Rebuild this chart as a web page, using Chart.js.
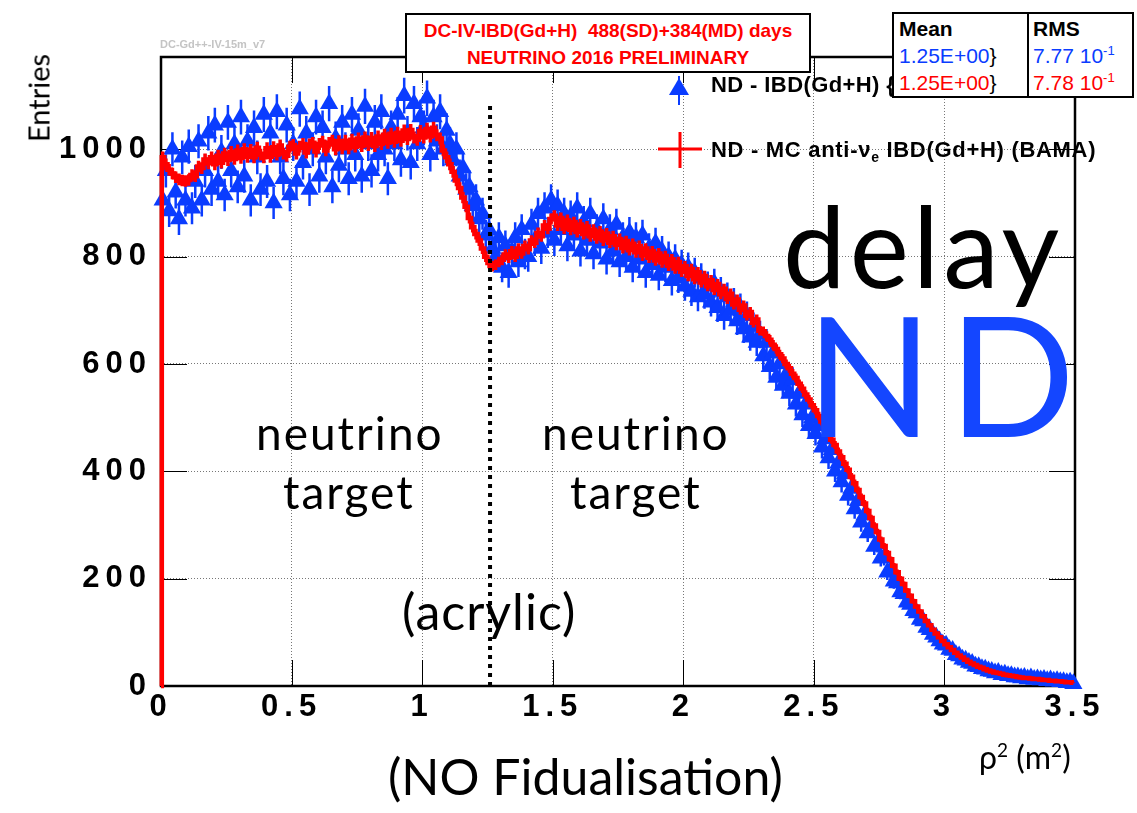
<!DOCTYPE html>
<html>
<head>
<meta charset="utf-8">
<title>ND delayed rho2</title>
<script src="https://cdn.jsdelivr.net/npm/chart.js@4.4.1/dist/chart.umd.min.js"></script>
<style>
  html, body { margin: 0; padding: 0; background: #fff; }
  #wrap { position: relative; width: 1137px; height: 813px; overflow: hidden; }
  #wrap canvas { position: absolute; left: 0; top: 0; }
  .lbl { position: absolute; white-space: nowrap; line-height: 1; margin: 0; }
  .gill { font-family: Lato, "Open Sans", sans-serif; color: #000; }
  .root { font-family: "Liberation Sans", Arial, sans-serif; }
  .box { position: absolute; background: #fff; border: 2px solid #000; box-sizing: border-box; }
  sub, sup { line-height: 0; }
</style>
</head>
<body>
<div id="wrap">
  <canvas id="rho2" width="1137" height="813"></canvas>

  <div class="lbl root" style="left:160px; top:39px; font-size:11px; font-weight:bold; color:#c4c4c4;">DC-Gd++-IV-15m_v7</div>

  <!-- legend entries (stats box sits over the end of the first one) -->
  <div class="lbl root" style="left:711px; top:74px; font-size:22px; font-weight:bold; letter-spacing:0.4px;">ND - IBD(Gd+H) {</div>
  <div class="lbl root" style="left:711px; top:139px; font-size:22px; font-weight:bold; letter-spacing:0.7px;">ND - MC anti-&nu;<sub style="font-size:14px;">e</sub> IBD(Gd+H) (BAMA)</div>

  <div class="box" style="left:405px; top:13px; width:406px; height:60px;">
    <div class="lbl root" style="left:0; right:0; top:6px; text-align:center; font-size:19px; font-weight:bold; color:#f00;">DC-IV-IBD(Gd+H)&nbsp; 488(SD)+384(MD) days</div>
    <div class="lbl root" style="left:0; right:0; top:33px; text-align:center; font-size:19px; font-weight:bold; color:#f00;">NEUTRINO 2016 PRELIMINARY</div>
  </div>

  <div class="box" style="left:892px; top:12px; width:242px; height:86px;">
    <div style="position:absolute; left:133px; top:0; bottom:0; border-left:2px solid #000;"></div>
    <div class="lbl root" style="left:5px; top:4px; font-size:21px; font-weight:bold;">Mean</div>
    <div class="lbl root" style="left:5px; top:31px; font-size:21px; color:#0a3cff;">1.25E+00<span style="color:#000">}</span></div>
    <div class="lbl root" style="left:5px; top:58px; font-size:21px; color:#f00;">1.25E+00<span style="color:#000">}</span></div>
    <div class="lbl root" style="left:139px; top:4px; font-size:21px; font-weight:bold;">RMS</div>
    <div class="lbl root" style="left:139px; top:31px; font-size:21px; color:#0a3cff;">7.77 10<sup style="font-size:13px;">-1</sup></div>
    <div class="lbl root" style="left:139px; top:58px; font-size:21px; color:#f00;">7.78 10<sup style="font-size:13px;">-1</sup></div>
  </div>

  <div class="lbl gill" style="left:783px; top:189px; font-size:112px; letter-spacing:4px;">delay</div>
  <div class="lbl gill" style="left:806px; top:290px; font-size:166px; letter-spacing:16px; color:#1446ff;">ND</div>

  <div class="lbl gill" style="left:256px; top:410px; font-size:46px; letter-spacing:2px;">neutrino</div>
  <div class="lbl gill" style="left:283px; top:469px; font-size:46px; letter-spacing:2px;">target</div>
  <div class="lbl gill" style="left:542px; top:410px; font-size:46px; letter-spacing:2px;">neutrino</div>
  <div class="lbl gill" style="left:570px; top:469px; font-size:46px; letter-spacing:2px;">target</div>
  <div class="lbl gill" style="left:402px; top:586px; font-size:50px; letter-spacing:1px;">(acrylic)</div>

  <div class="lbl gill" style="left:979px; top:741px; font-size:32px;">&rho;<sup style="font-size:19px;">2</sup> (m<sup style="font-size:19px;">2</sup>)</div>
  <div class="lbl gill" style="left:388px; top:751px; font-size:50px;">(NO Fidualisation)</div>
  <div class="lbl gill" style="left:38px; top:98px; font-size:29px; transform:translate(-50%,-50%) rotate(-90deg);">Entries</div>
</div>

<script>
// bin width in rho^2 (m^2): 280 bins over 0 - 3.5, one row = 0.1 m^2
const BIN_W = 0.0125;

// ND data, IBD(Gd+H) delayed candidates per bin
const dataCounts = [
  905, 960, 885, 1000, 920, 870, 985, 905,
  1005, 890, 940, 1015, 905, 960, 1030, 925,
  1045, 940, 995, 915, 1050, 960, 1010, 930,
  1060, 950, 1015, 905, 1040, 985, 925, 1065,
  940, 1030, 900, 1070, 985, 945, 1045, 915,
  1010, 940, 1075, 975, 1030, 925, 1000, 1060,
  950, 1040, 985, 1085, 930, 1020, 970, 1050,
  1000, 945, 1065, 990, 1035, 950, 1080, 1010,
  960, 1050, 990, 1070, 1000, 945, 1040, 1010,
  1065, 980, 1100, 1030, 975, 1085, 1010, 1060,
  1040, 1095, 990, 1060, 1015, 1070, 1000, 1035,
  1010, 980, 1000, 950, 965, 925, 930, 895,
  905, 870, 880, 840, 850, 815, 800, 835,
  780, 820, 770, 810, 835, 790, 850, 805,
  800, 860, 830, 880, 815, 890, 845, 905,
  830, 895, 850, 880, 820, 875, 840, 890,
  810, 865, 830, 880, 805, 850, 825, 870,
  795, 850, 810, 860, 790, 835, 800, 845,
  780, 835, 795, 840, 770, 815, 785, 825,
  765, 810, 780, 800, 755, 795, 760, 785,
  745, 780, 735, 770, 725, 760, 730, 745,
  715, 750, 705, 735, 690, 725, 700, 715,
  680, 705, 665, 690, 650, 670, 640, 655,
  615, 640, 595, 620, 575, 600, 560, 580,
  545, 570, 525, 545, 505, 525, 485, 500,
  470, 485, 445, 460, 425, 440, 400, 415,
  380, 395, 355, 368, 330, 345, 305, 318,
  285, 295, 260, 265, 238, 240, 212, 215,
  195, 192, 175, 172, 156, 152, 140, 136,
  124, 121, 109, 105, 96, 91, 84, 78,
  76, 68, 66, 58, 56, 50, 48, 44,
  42, 37, 36, 32, 31, 28, 27, 24,
  25, 21, 22, 19, 19, 17, 17, 15,
  16, 13, 15, 12, 13, 11, 12, 10,
  11, 9, 10, 8, 8, 6, 7, 4
];

// ND MC anti-nu_e IBD(Gd+H), BAMA, normalised to data
const mcCounts = [
  985, 972, 962, 955, 948, 944, 942, 941,
  943, 952, 950, 968, 965, 981, 974, 985,
  972, 988, 975, 992, 980, 995, 982, 998,
  984, 1000, 986, 999, 985, 1003, 990, 985,
  1002, 986, 1004, 990, 1007, 992, 988, 1005,
  1008, 992, 1005, 1010, 994, 1009, 1012, 996,
  1010, 1014, 998, 1012, 1016, 1000, 1015, 1002,
  1016, 1002, 1018, 1005, 1020, 1006, 1022, 1008,
  1021, 1006, 1024, 1010, 1027, 1012, 1029, 1014,
  1031, 1016, 1035, 1019, 1036, 1022, 1018, 1034,
  1022, 1038, 1024, 1040, 1026, 1020, 998, 985,
  972, 958, 942, 928, 910, 893, 872, 855,
  842, 830, 815, 800, 788, 782, 785, 790,
  794, 804, 798, 810, 800, 815, 806, 820,
  814, 830, 826, 844, 838, 858, 852, 870,
  876, 858, 872, 852, 868, 850, 864, 846,
  860, 842, 856, 838, 850, 834, 847, 830,
  843, 826, 838, 822, 833, 816, 829, 812,
  824, 808, 820, 802, 815, 798, 810, 793,
  806, 789, 801, 783, 795, 778, 790, 772,
  782, 764, 777, 758, 771, 752, 764, 745,
  756, 738, 749, 730, 740, 721, 731, 711,
  720, 701, 709, 690, 697, 677, 683, 662,
  661, 652, 645, 636, 628, 618, 610, 600,
  592, 582, 574, 563, 554, 543, 534, 523,
  514, 503, 493, 482, 471, 459, 449, 437,
  426, 414, 403, 390, 378, 365, 352, 340,
  326, 313, 299, 287, 273, 261, 248, 236,
  224, 212, 200, 190, 178, 168, 158, 148,
  139, 130, 121, 113, 105, 98, 91, 84,
  78, 72, 67, 62, 57, 53, 49, 45,
  42, 39, 36, 34, 31, 29, 27, 25,
  24, 23, 21, 20, 19, 18, 17, 16,
  15, 15, 14, 13, 13, 12, 11, 11,
  10, 10, 9, 9, 8, 7, 7, 6
];

const xTicks = [0, 0.5, 1, 1.5, 2, 2.5, 3, 3.5];
const yTicks = [0, 200, 400, 600, 800, 1000];
const Y_MAX = 1172;

// acrylic vessel boundary marker
const acrylicRho2 = 1.26;
const acrylicTop = 1084;

const BLUE = '#0a3cff';
const RED = '#ff0000';
const TICK_LEN = 26;

const binCentre = i => (i + 0.5) * BIN_W;

const dataPoints = dataCounts.map((v, i) => ({ x: binCentre(i), y: v }));
const mcPoints = [{ x: 0, y: 0 }].concat(mcCounts.map((v, i) => ({ x: binCentre(i), y: v })));

// ROOT-style frame, inner ticks on all sides, error bars, legend markers
const rootFrame = {
    id: 'rootFrame',
    beforeDraw(chart) {
        // wide tracking for the axis numbers only
        chart.ctx.letterSpacing = '6px';
    },
    beforeDatasetsDraw(chart) {
        const ctx = chart.ctx;
        const { left, right, top, bottom } = chart.chartArea;
        const xs = chart.scales.x, ys = chart.scales.y;
        ctx.letterSpacing = '0px';
        ctx.save();
        ctx.strokeStyle = '#000';
        ctx.lineWidth = 1;
        ctx.beginPath();
        xTicks.forEach(v => {
            const px = Math.round(xs.getPixelForValue(v)) + 0.5;
            ctx.moveTo(px, bottom); ctx.lineTo(px, bottom - TICK_LEN);
            ctx.moveTo(px, top); ctx.lineTo(px, top + TICK_LEN);
        });
        yTicks.forEach(v => {
            const py = Math.round(ys.getPixelForValue(v)) + 0.5;
            ctx.moveTo(left, py); ctx.lineTo(left + TICK_LEN, py);
            ctx.moveTo(right, py); ctx.lineTo(right - TICK_LEN, py);
        });
        ctx.stroke();
        ctx.lineWidth = 2.5;
        ctx.strokeRect(left, top, right - left, bottom - top);
        ctx.restore();
    },
    beforeDatasetDraw(chart, args) {
        const ds = chart.data.datasets[args.index];
        if (!ds.errScale) return;
        const ctx = chart.ctx;
        const ys = chart.scales.y;
        ctx.save();
        ctx.strokeStyle = ds.borderColor || ds.backgroundColor;
        ctx.lineWidth = ds.errWidth;
        ctx.beginPath();
        args.meta.data.forEach((pt, i) => {
            const v = ds.data[i].y;
            if (v <= 0) return;
            const e = Math.sqrt(v) * ds.errScale;
            ctx.moveTo(pt.x, ys.getPixelForValue(v + e));
            ctx.lineTo(pt.x, ys.getPixelForValue(v - e));
        });
        ctx.stroke();
        ctx.restore();
    },
    afterDraw(chart) {
        const ctx = chart.ctx;
        ctx.save();
        // data entry: triangle with error stub
        ctx.strokeStyle = BLUE;
        ctx.lineWidth = 2;
        ctx.beginPath();
        ctx.moveTo(679, 76); ctx.lineTo(679, 105);
        ctx.stroke();
        ctx.fillStyle = BLUE;
        ctx.beginPath();
        ctx.moveTo(679, 78); ctx.lineTo(689, 95); ctx.lineTo(669, 95);
        ctx.closePath();
        ctx.fill();
        // MC entry: cross
        ctx.strokeStyle = RED;
        ctx.lineWidth = 3;
        ctx.beginPath();
        ctx.moveTo(658, 149); ctx.lineTo(702, 149);
        ctx.moveTo(680, 132); ctx.lineTo(680, 168);
        ctx.stroke();
        ctx.restore();
    }
};

const tickFont = { family: 'Liberation Sans', weight: 'bold', size: 31 };

new Chart(document.getElementById('rho2').getContext('2d'), {
    type: 'scatter',
    data: {
        datasets: [
            {
                label: 'acrylic',
                type: 'line',
                data: [{ x: acrylicRho2, y: 0 }, { x: acrylicRho2, y: acrylicTop }],
                borderColor: '#000',
                borderWidth: 4,
                borderDash: [4, 5],
                pointRadius: 0,
                order: 0
            },
            {
                label: 'ND - MC anti-ve IBD(Gd+H) (BAMA)',
                type: 'line',
                data: mcPoints,
                borderColor: RED,
                backgroundColor: RED,
                borderWidth: 4.5,
                stepped: 'middle',
                pointRadius: 0,
                errScale: 0.35,
                errWidth: 3.5,
                clip: false,
                order: 1
            },
            {
                label: 'ND - IBD(Gd+H)',
                data: dataPoints,
                backgroundColor: BLUE,
                borderColor: BLUE,
                borderWidth: 0,
                pointStyle: 'triangle',
                pointRadius: 10.5,
                errScale: 1,
                errWidth: 2.5,
                clip: false,
                order: 2
            }
        ]
    },
    options: {
        responsive: false,
        animation: false,
        events: [],
        layout: { padding: { left: 0, top: 57, right: 62, bottom: 0 } },
        plugins: {
            legend: { display: false },
            tooltip: { enabled: false }
        },
        scales: {
            x: {
                type: 'linear',
                min: 0,
                max: 3.5,
                afterBuildTicks: s => { s.ticks = xTicks.map(v => ({ value: v })); },
                afterFit: s => { s.height = 127; },
                grid: { color: '#777', lineWidth: 1, drawTicks: false },
                border: { display: false, dash: [1, 2] },
                ticks: {
                    color: '#000',
                    padding: 3,
                    maxRotation: 0,
                    autoSkip: false,
                    font: tickFont,
                    callback: v => String(v)
                }
            },
            y: {
                type: 'linear',
                min: 0,
                max: Y_MAX,
                afterBuildTicks: s => { s.ticks = yTicks.map(v => ({ value: v })); },
                afterFit: s => { s.width = 161; },
                grid: { color: '#777', lineWidth: 1, drawTicks: false },
                border: { display: false, dash: [1, 2] },
                ticks: {
                    color: '#000',
                    padding: 9,
                    font: tickFont,
                    callback: v => String(v)
                }
            }
        }
    },
    plugins: [rootFrame]
});
</script>
</body>
</html>
